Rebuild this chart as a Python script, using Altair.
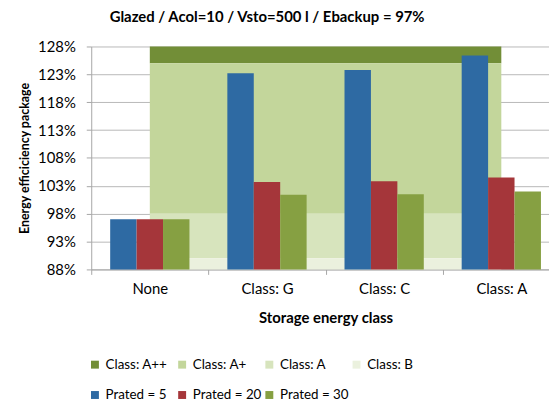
import altair as alt
import pandas as pd

# ---- data ----
categories = ["None", "Class: G", "Class: C", "Class: A"]
series_names = ["Prated = 5", "Prated = 20", "Prated = 30"]
prated_5 = [0.97, 1.232, 1.238, 1.264]
prated_20 = [0.97, 1.037, 1.038, 1.045]
prated_30 = [0.97, 1.014, 1.015, 1.020]

band_names = ["Class: A++", "Class: A+", "Class: A", "Class: B"]
band_lower = [1.25, 0.98, 0.90, 0.88]
band_upper = [1.28, 1.25, 0.98, 0.90]
band_start = "None"
band_end = "Class: A"

y_ticks = [0.88, 0.93, 0.98, 1.03, 1.08, 1.13, 1.18, 1.23, 1.28]

band_colors = ["#728E37", "#C3D69B", "#D7E4BD", "#EBF1DE"]
bar_colors = ["#2E6AA3", "#A5363A", "#86A042"]

FONT = "Lato"

# ---- tables ----
rows = []
for s, vals in zip(series_names, [prated_5, prated_20, prated_30]):
    for c, v in zip(categories, vals):
        rows.append({"category": c, "series": s, "value": v})
bars_df = pd.DataFrame(rows)

bands_df = pd.DataFrame({
    "series": band_names,
    "lo": band_lower,
    "hi": band_upper,
    "x0": [categories.index(band_start)] * len(band_names),
    "x1": [categories.index(band_end)] * len(band_names),
})

legend_order = band_names + series_names
legend_colors = band_colors + bar_colors

y_min, y_max = y_ticks[0], y_ticks[-1]

y_axis = alt.Axis(
    title="Energy efficiciency package",
    values=y_ticks,
    format=".0%",
    grid=True,
    gridColor="#B8B8B8",
    gridWidth=1,
    tickSize=5,
    tickColor="#A6A6A6",
    domainColor="#A6A6A6",
    labelPadding=11,
    titlePadding=6,
    labelFontSize=15,
    titleFontSize=12.5,
)
y_scale = alt.Scale(domain=[y_min, y_max], nice=False, zero=False, clamp=True)

color = alt.Color(
    "series:N",
    scale=alt.Scale(domain=legend_order, range=legend_colors),
    legend=alt.Legend(
        title=None,
        orient="none",
        legendX=-3,
        legendY=314,
        padding=0,
        direction="horizontal",
        columns=4,
        gridAlign="all",
        symbolType="square",
        symbolSize=64,
        symbolStrokeWidth=0,
        labelFontSize=13.5,
        labelFont=FONT,
        labelOffset=4,
        columnPadding=1,
        rowPadding=16,
    ),
)

bands = alt.Chart(bands_df).mark_rect().encode(
    x=alt.X("x0:Q",
            scale=alt.Scale(domain=[-0.5, len(categories) - 0.5], nice=False, zero=False),
            axis=None),
    x2="x1:Q",
    y=alt.Y("lo:Q", scale=y_scale, axis=y_axis),
    y2="hi:Q",
    color=color,
)

bars = alt.Chart(bars_df).mark_bar().encode(
    x=alt.X("category:N", sort=categories,
            scale=alt.Scale(domain=categories, paddingInner=0, paddingOuter=0),
            axis=alt.Axis(title="Storage energy class", labelAngle=0, tickBand="extent",
                          tickSize=5, tickColor="#A6A6A6", domainColor="#A6A6A6",
                          labelPadding=7, titlePadding=15, labelFontSize=15,
                          titleFontSize=15, grid=False)),
    xOffset=alt.XOffset("series:N", sort=series_names,
                        scale=alt.Scale(domain=series_names, paddingOuter=0.717, paddingInner=0)),
    y=alt.Y("value:Q", scale=y_scale, axis=y_axis),
    y2=alt.datum(y_min),
    color=color,
)

chart = alt.layer(bands, bars).resolve_scale(x="independent").properties(
    width=473,
    height=225,
    title=alt.TitleParams(
        "Glazed / Acol=10 / Vsto=500 l / Ebackup = 97%",
        font=FONT, fontSize=15, fontWeight="bold", anchor="middle",
        dx=-59, offset=15, color="#000000",
    ),
    padding={"left": 10, "top": 0, "right": -12, "bottom": 0},
).configure_view(stroke=None).configure_axis(
    labelFont=FONT, titleFont=FONT, labelColor="#000000", titleColor="#000000",
    titleFontWeight="bold",
)

chart.save("out.html", embed_options={"renderer": "svg", "actions": False})
